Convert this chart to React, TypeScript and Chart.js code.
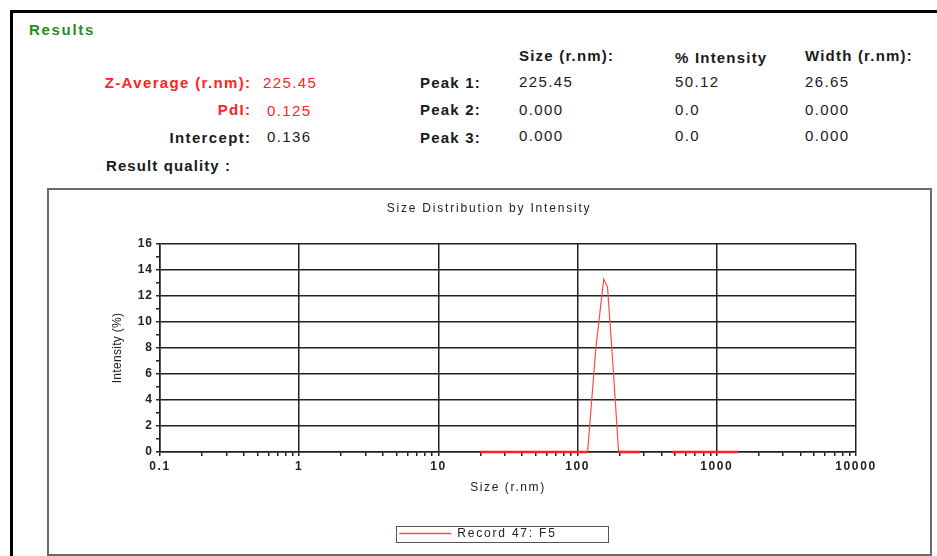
import React, { useEffect, useRef } from 'react';
import { Chart, registerables } from 'chart.js';

Chart.register(...registerables);

// ---------- data ----------
const chartTitle = 'Size Distribution by Intensity';
const seriesLabel = 'Record 47: F5';
const xAxisTitle = 'Size (r.nm)';
const yAxisTitle = 'Intensity (%)';

const sizeNm = [20, 40, 60, 80, 100, 118, 135, 154, 164, 180, 197, 240, 280, 370, 475, 700, 1000, 1420];
const intensityPct: (number | null)[] = [0, 0, 0, 0, 0, 0, 7.9, 13.3, 12.7, 6.5, 0, 0, 0, null, 0, 0, 0, 0];

const xDecades = [0.1, 1, 10, 100, 1000, 10000];
const xTickLabels = ['0.1', '1', '10', '100', '1000', '10000'];
const xMinorMultipliers = [2, 3, 4, 5, 6, 7, 8, 9];
const yMin = 0;
const yMax = 16;

const summaryLabels = ['Z-Average (r.nm):', 'PdI:', 'Intercept:'];
const summaryValues = ['225.45', '0.125', '0.136'];
const peakHeaders = ['Size (r.nm):', '% Intensity', 'Width (r.nm):'];
const peakLabels = ['Peak 1:', 'Peak 2:', 'Peak 3:'];
const peakSize = ['225.45', '0.000', '0.000'];
const peakIntensity = ['50.12', '0.0', '0.0'];
const peakWidth = ['26.65', '0.000', '0.000'];

// ---------- helpers ----------
const FONT = "'Liberation Sans', Arial, sans-serif";
const RED = '#ff2323';
const DARK = '#1a1a1a';
const LINE_RED = '#ff4a4a';
const BASE_RED = '#ff2020';

function Txt(props: {
  x: number;
  cy: number;
  text: string;
  bold?: boolean;
  color?: string;
  align?: 'left' | 'right';
  size?: number;
  ls?: number;
}) {
  const { x, cy, text, bold, color = DARK, align = 'left', size = 15, ls = 1.3 } = props;
  const style: React.CSSProperties = {
    position: 'absolute',
    top: cy - size * 0.49,
    fontFamily: FONT,
    fontSize: size,
    lineHeight: size + 'px',
    fontWeight: bold ? 'bold' : 'normal',
    color,
    letterSpacing: ls + 'px',
    whiteSpace: 'nowrap',
  };
  if (align === 'right') style.right = 937 - x - ls;
  else style.left = x;
  return <div style={style}>{text}</div>;
}

function isDecade(v: number) {
  const l = Math.log10(v);
  return Math.abs(l - Math.round(l)) < 1e-6;
}

function SizeChart() {
  const canvasRef = useRef<HTMLCanvasElement>(null);

  useEffect(() => {
    const canvas = canvasRef.current;
    if (!canvas) return;

    const xTickValues: number[] = [];
    xDecades.forEach((d, i) => {
      xTickValues.push(d);
      if (i < xDecades.length - 1) xMinorMultipliers.forEach((m) => xTickValues.push(d * m));
    });
    xTickValues.sort((a, b) => a - b);

    const GLOBAL_LS = '1.8px';
    const spacing: Record<string, { labels: string; title: string }> = {
      x: { labels: '1.6px', title: '1.6px' },
      y: { labels: '1.0px', title: '0.3px' },
    };

    const letterSpacingPlugin = {
      id: 'letterSpacing',
      beforeInit(chart: any) {
        chart.ctx.letterSpacing = GLOBAL_LS;
      },
      beforeLayout(chart: any) {
        chart.ctx.letterSpacing = GLOBAL_LS;
      },
      beforeDraw(chart: any) {
        chart.ctx.letterSpacing = GLOBAL_LS;
      },
      afterLayout(chart: any) {
        const lg = chart.legend;
        if (lg) {
          lg.left -= 11;
          lg.right -= 11;
        }
        Object.values(chart.scales).forEach((s: any) => {
          if (s.__patched) return;
          const sp = spacing[s.id];
          if (!sp) return;
          s.__patched = true;
          const dl = s.drawLabels.bind(s);
          const dt = s.drawTitle.bind(s);
          s.drawLabels = (...a: any[]) => {
            const c = s.ctx;
            const prev = c.letterSpacing;
            c.letterSpacing = sp.labels;
            dl(...a);
            c.letterSpacing = prev;
          };
          s.drawTitle = (...a: any[]) => {
            const c = s.ctx;
            const prev = c.letterSpacing;
            c.letterSpacing = sp.title;
            dt(...a);
            c.letterSpacing = prev;
          };
        });
      },
    };

    const legendBoxPlugin = {
      id: 'legendBox',
      afterDraw(chart: any) {
        const lg = chart.legend;
        const hb = lg && lg.legendHitBoxes && lg.legendHitBoxes[0];
        if (!hb) return;
        const ctx = chart.ctx;
        ctx.save();
        ctx.strokeStyle = '#555';
        ctx.lineWidth = 1;
        const cy = hb.top + hb.height / 2;
        ctx.strokeRect(Math.round(hb.left - 3) + 0.5, Math.round(cy - 8) + 0.5, 212, 16);
        ctx.restore();
      },
    };

    const gridCol = '#222';
    const isBase = (ctx: any) => ctx.p0.parsed.y === 0 && ctx.p1.parsed.y === 0;

    const chart = new Chart(canvas, {
      type: 'line',
      data: {
        datasets: [
          {
            label: seriesLabel,
            data: sizeNm.map((x, i) => ({ x, y: intensityPct[i] })) as any,
            borderColor: LINE_RED,
            backgroundColor: LINE_RED,
            borderWidth: 1.2,
            pointRadius: 0,
            tension: 0,
            spanGaps: false,
            fill: false,
            clip: false,
            yAxisID: 'y',
            segment: {
              borderWidth: (ctx: any) => (isBase(ctx) ? 2.6 : 1.2),
              borderColor: (ctx: any) => (isBase(ctx) ? BASE_RED : LINE_RED),
            },
          },
        ],
      },
      options: {
        animation: false,
        responsive: true,
        maintainAspectRatio: false,
        layout: { padding: { left: 37, right: 37, top: 0, bottom: 3.5 } },
        plugins: {
          title: {
            display: true,
            text: chartTitle,
            color: '#222',
            font: { family: FONT, size: 12, weight: 'normal' },
            padding: { top: 11.5, bottom: 28.1 },
          },
          legend: {
            display: true,
            position: 'bottom',
            labels: {
              usePointStyle: false,
              boxWidth: 52,
              boxHeight: 1.5,
              padding: 27.5,
              color: '#222',
              font: { family: FONT, size: 12 },
              generateLabels: (ch: any) =>
                (Chart.defaults.plugins.legend.labels.generateLabels as any)(ch).map((it: any) => ({
                  ...it,
                  strokeStyle: LINE_RED,
                  fillStyle: LINE_RED,
                  lineWidth: 0,
                })),
            },
          },
          tooltip: { enabled: false },
        },
        scales: {
          x: {
            type: 'logarithmic',
            min: 0.1,
            max: 10000,
            afterBuildTicks: (s: any) => {
              s.ticks = xTickValues.map((v) => ({ value: v }));
            },
            afterFit: (s: any) => {
              s.height = 48;
            },
            ticks: {
              autoSkip: false,
              maxRotation: 0,
              minRotation: 0,
              padding: 3.5,
              color: '#222',
              font: { family: FONT, size: 12, weight: 'bold' },
              callback: (v: any) => {
                const val = Number(v);
                if (!isDecade(val)) return '';
                const idx = xDecades.findIndex((d) => Math.abs(Math.log10(d) - Math.log10(val)) < 1e-6);
                return idx >= 0 ? xTickLabels[idx] : '';
              },
            },
            grid: {
              color: (ctx: any) => (ctx.tick && isDecade(ctx.tick.value) ? gridCol : 'rgba(0,0,0,0)'),
              lineWidth: 1.5,
              tickColor: gridCol,
              tickLength: 4,
            },
            border: { color: gridCol, width: 1.5 },
            title: {
              display: true,
              text: xAxisTitle,
              color: '#222',
              font: { family: FONT, size: 12 },
              padding: { top: 0, bottom: 4.8 },
            },
          },
          y: {
            min: yMin,
            max: yMax,
            afterFit: (s: any) => {
              s.width = 74;
            },
            ticks: {
              stepSize: 1,
              autoSkip: false,
              padding: 3,
              color: '#222',
              font: { family: FONT, size: 12, weight: 'bold' },
              callback: (v: any) => (Number(v) % 2 === 0 ? String(v) : ''),
            },
            grid: {
              color: (ctx: any) => (ctx.tick && ctx.tick.value % 2 === 0 ? gridCol : 'rgba(0,0,0,0)'),
              lineWidth: 1.5,
              tickColor: gridCol,
              tickLength: 4,
            },
            border: { color: gridCol, width: 1.5 },
            title: {
              display: true,
              text: yAxisTitle,
              color: '#222',
              font: { family: FONT, size: 12 },
              padding: { top: 24.8, bottom: 0 },
            },
          },
          rightSpacer: {
            type: 'linear',
            position: 'right',
            display: true,
            afterFit: (s: any) => {
              s.width = 36;
            },
            ticks: { display: false },
            grid: { display: false, drawOnChartArea: false, drawTicks: false },
            border: { display: false },
            title: { display: false },
          },
        },
      } as any,
      plugins: [letterSpacingPlugin as any, legendBoxPlugin as any],
    });

    return () => chart.destroy();
  }, []);

  return (
    <div style={{ position: 'absolute', left: 49, top: 190, width: 880, height: 363 }}>
      <canvas ref={canvasRef} />
    </div>
  );
}

export default function App() {
  const rowLabelY = [82.7, 109.3, 137.3];
  const rowValueY = [81, 109, 135];
  const summaryValueX = [263, 267, 267];
  const headerY = [55, 57.3, 55.3];
  const colX = [519, 675, 805];

  return (
    <div
      style={{
        position: 'absolute',
        left: 0,
        top: 0,
        width: 937,
        height: 556,
        overflow: 'hidden',
        background: '#fff',
      }}
    >
      {/* outer frame */}
      <div
        style={{
          position: 'absolute',
          left: 10,
          top: 10,
          width: 960,
          height: 600,
          border: '3px solid #000',
          boxSizing: 'border-box',
        }}
      />
      <Txt x={29} cy={29} text="Results" bold color="#1f8f1f" ls={1.7} />

      {summaryLabels.map((t, i) => (
        <Txt key={'sl' + i} x={250} cy={rowLabelY[i]} text={t} bold align="right" color={i < 2 ? RED : DARK} ls={1.35} />
      ))}
      {summaryValues.map((t, i) => (
        <Txt key={'sv' + i} x={summaryValueX[i]} cy={rowValueY[i] + 1} text={t} color={i < 2 ? RED : DARK} ls={1.4} />
      ))}
      <Txt x={106} cy={165} text="Result quality :" bold ls={1.1} />

      {peakHeaders.map((t, i) => (
        <Txt key={'ph' + i} x={colX[i]} cy={headerY[i]} text={t} bold ls={1.2} />
      ))}
      {peakLabels.map((t, i) => (
        <Txt key={'pl' + i} x={420} cy={rowLabelY[i]} text={t} bold ls={1.2} />
      ))}
      {[peakSize, peakIntensity, peakWidth].map((col, c) =>
        col.map((t, i) => <Txt key={'pv' + c + '-' + i} x={colX[c]} cy={rowValueY[i]} text={t} ls={1.4} />)
      )}

      {/* chart box */}
      <div
        style={{
          position: 'absolute',
          left: 47,
          top: 188,
          width: 885,
          height: 368,
          border: '2px solid #6a6a6a',
          boxSizing: 'border-box',
          background: '#fff',
        }}
      />
      <SizeChart />
    </div>
  );
}
